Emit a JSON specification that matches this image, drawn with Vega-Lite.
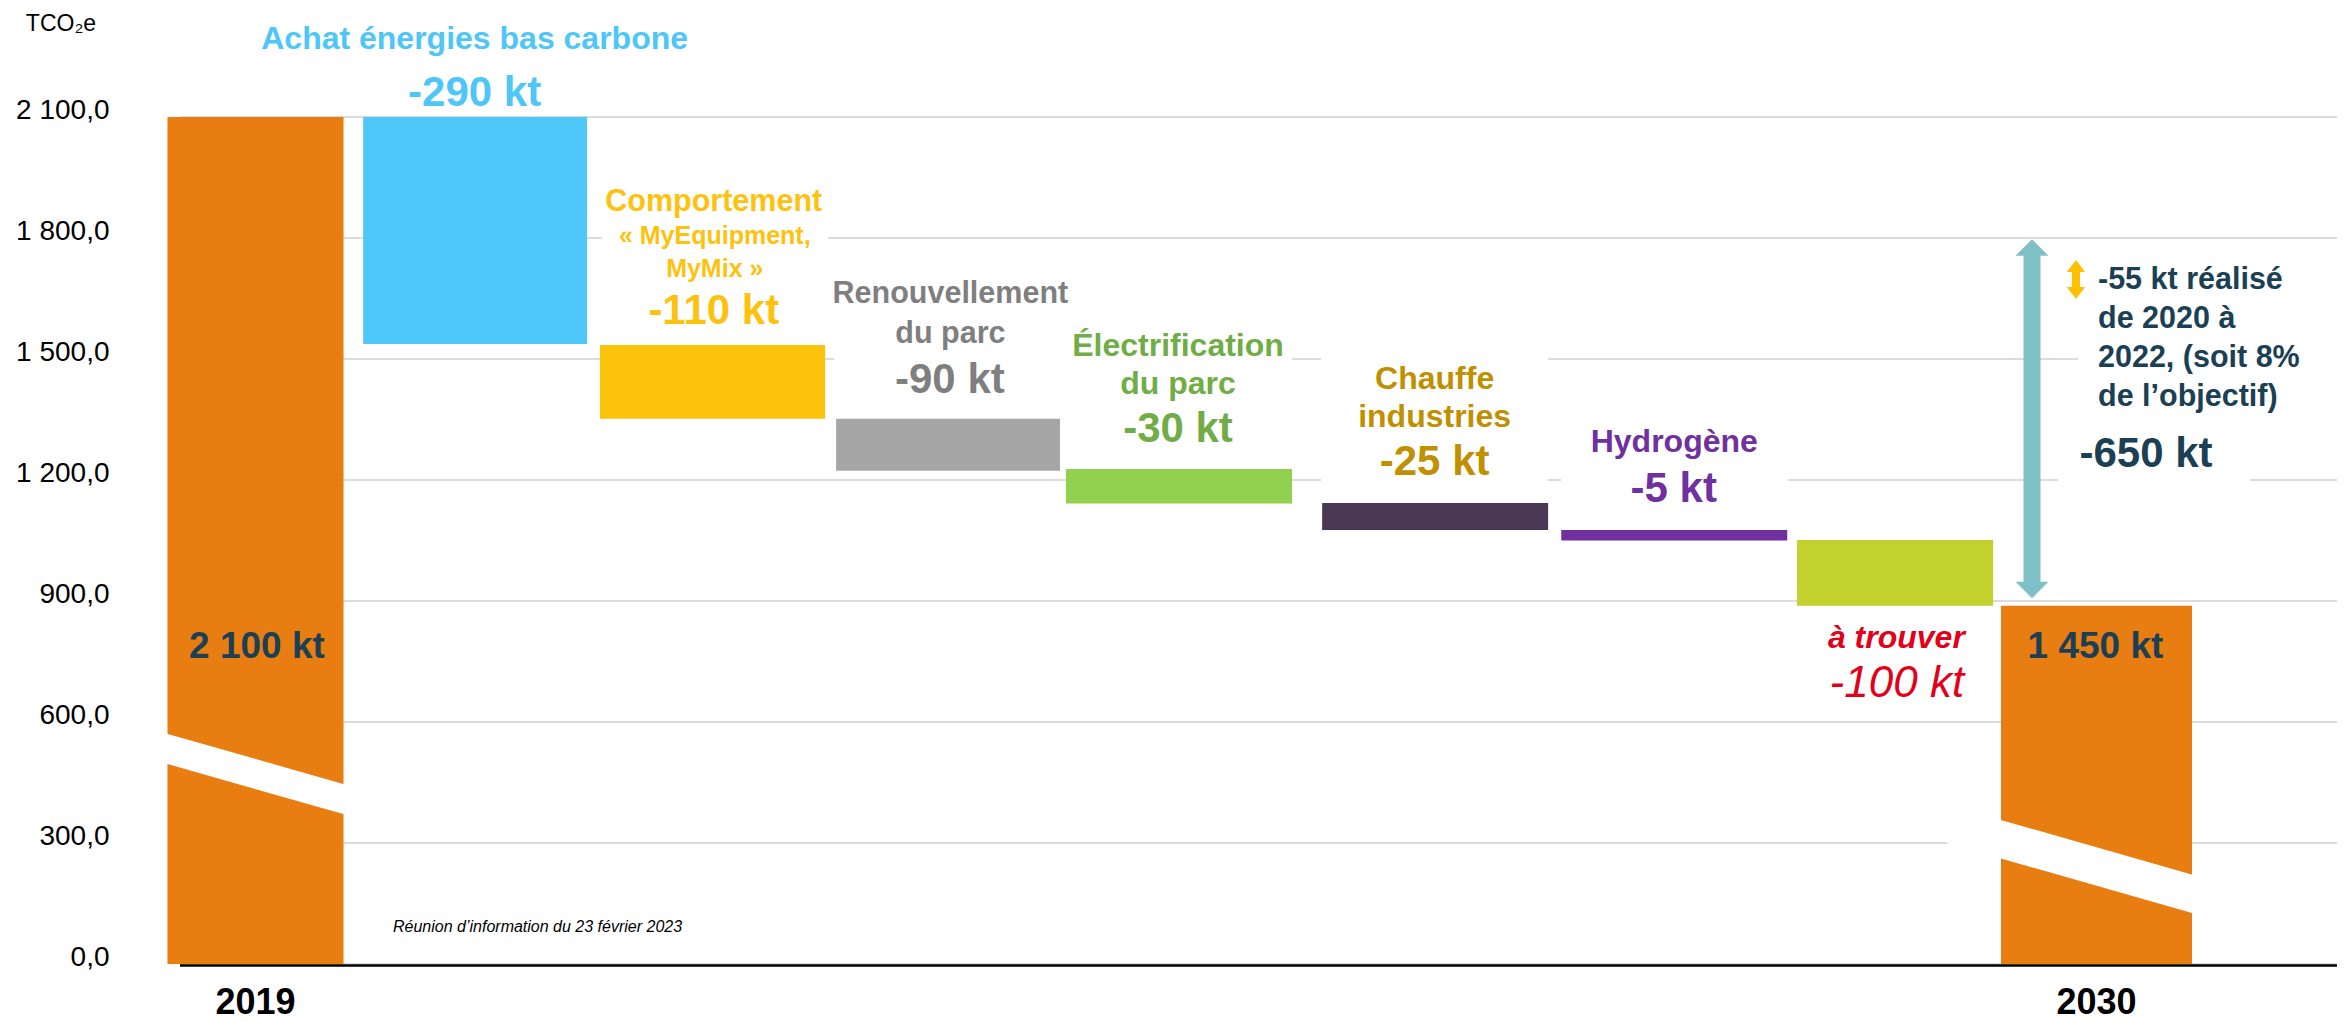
{
  "$schema": "https://vega.github.io/schema/vega-lite/v6.json",
  "width": 2157,
  "height": 847,
  "autosize": {"type": "none"},
  "padding": {"left": 180, "top": 117, "right": 7, "bottom": 58},
  "background": "#ffffff",
  "config": {"view": {"stroke": null}, "font": "Liberation Sans"},
  "datasets": {
    "bars": [
      {"cat": "2019", "start": 2100, "end": 0, "label": "2 100 kt"},
      {"cat": "Achat", "start": 2100, "end": 1537, "title": "Achat énergies bas carbone", "label": "-290 kt"},
      {"cat": "Comportement", "start": 1535, "end": 1352, "title": "Comportement", "sub": "« MyEquipment,\nMyMix »", "label": "-110 kt"},
      {"cat": "Renouvellement", "start": 1352, "end": 1223, "title": "Renouvellement\ndu parc", "label": "-90 kt"},
      {"cat": "Électrification", "start": 1227, "end": 1142, "title": "Électrification\ndu parc", "label": "-30 kt"},
      {"cat": "Chauffe", "start": 1143, "end": 1076, "title": "Chauffe\nindustries", "label": "-25 kt"},
      {"cat": "Hydrogène", "start": 1076, "end": 1050, "title": "Hydrogène", "label": "-5 kt"},
      {"cat": "À trouver", "start": 1051, "end": 888, "title": "à trouver", "label": "-100 kt"},
      {"cat": "2030", "start": 888, "end": 0, "label": "1 450 kt"}
    ],
    "ticks": [{"v": 0}, {"v": 300}, {"v": 600}, {"v": 900}, {"v": 1200}, {"v": 1500}, {"v": 1800}, {"v": 2100}]
  },
  "data": {"name": "bars"},
  "layer": [
    {
      "data": {"name": "ticks"},
      "mark": {"type": "rule", "color": "#DCDCDC", "strokeWidth": 2},
      "encoding": {"y": {"field": "v", "type": "quantitative"}}
    },
    {
      "transform": [{"filter": "datum.cat === '2019'"}],
      "layer": [
        {
          "mark": {"type": "bar", "color": "#E87D11", "width": {"band": 0.765}},
          "encoding": {
            "x": {
              "field": "cat", "type": "nominal",
              "scale": {"domain": ["2019", "Achat", "Comportement", "Renouvellement", "Électrification", "Chauffe", "Hydrogène", "À trouver", "2030"], "range": [-39.56, 2031.56], "paddingInner": 0, "paddingOuter": 0},
              "axis": {"title": null, "domain": false, "ticks": false, "tickSize": 0, "grid": false, "labelAngle": 0,
                "labelExpr": "datum.value == '2019' || datum.value == '2030' ? datum.value : ''",
                "labelFont": "Liberation Sans", "labelFontWeight": "bold", "labelFontSize": 36, "labelColor": "#000000",
                "labelBaseline": "top", "labelPadding": 21}
            },
            "y": {
              "field": "start", "type": "quantitative",
              "scale": {"domain": [0, 2100], "nice": false, "zero": false},
              "axis": {"title": "TCO₂e", "titleAngle": 0, "titleX": -119.5, "titleY": -87, "titleAlign": "center", "titleBaseline": "alphabetic",
                "titleFont": "Liberation Sans", "titleFontWeight": "normal", "titleFontSize": 23, "titleColor": "#000000",
                "values": [0, 300, 600, 900, 1200, 1500, 1800, 2100],
                "labelExpr": "replace(replace(format(datum.value, ',.1f'), ',', ' '), '.', ',')",
                "labelFont": "Liberation Sans", "labelFontSize": 28, "labelColor": "#000000", "labelBaseline": "alphabetic",
                "labelOffset": 1, "labelPadding": 71, "ticks": false, "tickSize": 0, "domain": false, "grid": false}
            },
            "y2": {"field": "end"}
          }
        },
        {
          "mark": {"type": "text", "font": "Liberation Sans", "fontWeight": "bold", "fontSize": 37, "color": "#1B3F55", "baseline": "middle", "xOffset": 1.5, "yOffset": 530.2},
          "encoding": {"x": {"field": "cat", "type": "nominal"}, "y": {"field": "start", "type": "quantitative"}, "text": {"field": "label", "type": "nominal"}}
        }
      ]
    },
    {
      "transform": [{"filter": "datum.cat === 'Achat'"}],
      "layer": [
        {
          "mark": {"type": "bar", "color": "#4EC6F8", "width": {"band": 0.973}, "xOffset": -10.5},
          "encoding": {"x": {"field": "cat", "type": "nominal"}, "y": {"field": "start", "type": "quantitative"}, "y2": {"field": "end"}}
        },
        {
          "mark": {"type": "text", "font": "Liberation Sans", "fontWeight": "bold", "fontSize": 32, "color": "#4EC6F8", "baseline": "middle", "xOffset": -11, "yOffset": -78.4},
          "encoding": {"x": {"field": "cat", "type": "nominal"}, "y": {"field": "start", "type": "quantitative"}, "text": {"field": "title", "type": "nominal"}}
        },
        {
          "mark": {"type": "text", "font": "Liberation Sans", "fontWeight": "bold", "fontSize": 42, "color": "#4EC6F8", "baseline": "middle", "xOffset": -11, "yOffset": -24},
          "encoding": {"x": {"field": "cat", "type": "nominal"}, "y": {"field": "start", "type": "quantitative"}, "text": {"field": "label", "type": "nominal"}}
        }
      ]
    },
    {
      "transform": [{"filter": "datum.cat === 'Comportement'"}],
      "layer": [
        {
          "mark": {"type": "bar", "color": "#ffffff", "width": {"band": 0.982}, "xOffset": -0.7, "y2Offset": -160},
          "encoding": {"x": {"field": "cat", "type": "nominal"}, "y": {"field": "start", "type": "quantitative"}, "y2": {"field": "start"}}
        },
        {
          "mark": {"type": "bar", "color": "#FCC30C", "width": {"band": 0.978}, "xOffset": -3.2},
          "encoding": {"x": {"field": "cat", "type": "nominal"}, "y": {"field": "start", "type": "quantitative"}, "y2": {"field": "end"}}
        },
        {
          "mark": {"type": "text", "font": "Liberation Sans", "fontWeight": "bold", "fontSize": 30.5, "color": "#FDC20F", "baseline": "middle", "xOffset": -2, "yOffset": -143.2},
          "encoding": {"x": {"field": "cat", "type": "nominal"}, "y": {"field": "start", "type": "quantitative"}, "text": {"field": "title", "type": "nominal"}}
        },
        {
          "mark": {"type": "text", "font": "Liberation Sans", "fontWeight": "bold", "fontSize": 25, "color": "#FDC20F", "baseline": "middle", "lineBreak": "\n", "lineHeight": 32.5, "xOffset": -1, "yOffset": -108.5},
          "encoding": {"x": {"field": "cat", "type": "nominal"}, "y": {"field": "start", "type": "quantitative"}, "text": {"field": "sub", "type": "nominal"}}
        },
        {
          "mark": {"type": "text", "font": "Liberation Sans", "fontWeight": "bold", "fontSize": 42, "color": "#FDC20F", "baseline": "middle", "xOffset": -2, "yOffset": -34.3},
          "encoding": {"x": {"field": "cat", "type": "nominal"}, "y": {"field": "start", "type": "quantitative"}, "text": {"field": "label", "type": "nominal"}}
        }
      ]
    },
    {
      "transform": [{"filter": "datum.cat === 'Renouvellement'"}],
      "layer": [
        {
          "mark": {"type": "bar", "color": "#ffffff", "width": {"band": 0.99}, "xOffset": 2.2, "y2Offset": -144},
          "encoding": {"x": {"field": "cat", "type": "nominal"}, "y": {"field": "start", "type": "quantitative"}, "y2": {"field": "start"}}
        },
        {
          "mark": {"type": "bar", "color": "#A6A6A6", "width": {"band": 0.973}, "xOffset": 2.2},
          "encoding": {"x": {"field": "cat", "type": "nominal"}, "y": {"field": "start", "type": "quantitative"}, "y2": {"field": "end"}}
        },
        {
          "mark": {"type": "text", "font": "Liberation Sans", "fontWeight": "bold", "fontSize": 30.5, "color": "#7F7F7F", "baseline": "middle", "lineBreak": "\n", "lineHeight": 40, "xOffset": 4.5, "yOffset": -124.4},
          "encoding": {"x": {"field": "cat", "type": "nominal"}, "y": {"field": "start", "type": "quantitative"}, "text": {"field": "title", "type": "nominal"}}
        },
        {
          "mark": {"type": "text", "font": "Liberation Sans", "fontWeight": "bold", "fontSize": 42, "color": "#7F7F7F", "baseline": "middle", "xOffset": 4, "yOffset": -39},
          "encoding": {"x": {"field": "cat", "type": "nominal"}, "y": {"field": "start", "type": "quantitative"}, "text": {"field": "label", "type": "nominal"}}
        }
      ]
    },
    {
      "transform": [{"filter": "datum.cat === 'Électrification'"}],
      "layer": [
        {
          "mark": {"type": "bar", "color": "#ffffff", "width": {"band": 1}, "xOffset": 1, "y2Offset": -149},
          "encoding": {"x": {"field": "cat", "type": "nominal"}, "y": {"field": "start", "type": "quantitative"}, "y2": {"field": "start"}}
        },
        {
          "mark": {"type": "bar", "color": "#92D050", "width": {"band": 0.982}, "xOffset": 3},
          "encoding": {"x": {"field": "cat", "type": "nominal"}, "y": {"field": "start", "type": "quantitative"}, "y2": {"field": "end"}}
        },
        {
          "mark": {"type": "text", "font": "Liberation Sans", "fontWeight": "bold", "fontSize": 32, "color": "#70AD47", "baseline": "middle", "lineBreak": "\n", "lineHeight": 37.5, "xOffset": 2, "yOffset": -122.9},
          "encoding": {"x": {"field": "cat", "type": "nominal"}, "y": {"field": "start", "type": "quantitative"}, "text": {"field": "title", "type": "nominal"}}
        },
        {
          "mark": {"type": "text", "font": "Liberation Sans", "fontWeight": "bold", "fontSize": 42, "color": "#70AD47", "baseline": "middle", "xOffset": 2, "yOffset": -40},
          "encoding": {"x": {"field": "cat", "type": "nominal"}, "y": {"field": "start", "type": "quantitative"}, "text": {"field": "label", "type": "nominal"}}
        }
      ]
    },
    {
      "transform": [{"filter": "datum.cat === 'Chauffe'"}],
      "layer": [
        {
          "mark": {"type": "bar", "color": "#ffffff", "width": {"band": 0.986}, "xOffset": 28.4, "y2Offset": -153},
          "encoding": {"x": {"field": "cat", "type": "nominal"}, "y": {"field": "start", "type": "quantitative"}, "y2": {"field": "start"}}
        },
        {
          "mark": {"type": "bar", "color": "#4B3855", "width": {"band": 0.982}, "xOffset": 29},
          "encoding": {"x": {"field": "cat", "type": "nominal"}, "y": {"field": "start", "type": "quantitative"}, "y2": {"field": "end"}}
        },
        {
          "mark": {"type": "text", "font": "Liberation Sans", "fontWeight": "bold", "fontSize": 32, "color": "#BF9000", "baseline": "middle", "lineBreak": "\n", "lineHeight": 38, "xOffset": 28.5, "yOffset": -124.4},
          "encoding": {"x": {"field": "cat", "type": "nominal"}, "y": {"field": "start", "type": "quantitative"}, "text": {"field": "title", "type": "nominal"}}
        },
        {
          "mark": {"type": "text", "font": "Liberation Sans", "fontWeight": "bold", "fontSize": 42, "color": "#BF9000", "baseline": "middle", "xOffset": 28.5, "yOffset": -41.4},
          "encoding": {"x": {"field": "cat", "type": "nominal"}, "y": {"field": "start", "type": "quantitative"}, "text": {"field": "label", "type": "nominal"}}
        }
      ]
    },
    {
      "transform": [{"filter": "datum.cat === 'Hydrogène'"}],
      "layer": [
        {
          "mark": {"type": "bar", "color": "#ffffff", "width": {"band": 0.986}, "xOffset": 38.3, "y2Offset": -110},
          "encoding": {"x": {"field": "cat", "type": "nominal"}, "y": {"field": "start", "type": "quantitative"}, "y2": {"field": "start"}}
        },
        {
          "mark": {"type": "bar", "color": "#7030A0", "width": {"band": 0.982}, "xOffset": 38},
          "encoding": {"x": {"field": "cat", "type": "nominal"}, "y": {"field": "start", "type": "quantitative"}, "y2": {"field": "end"}}
        },
        {
          "mark": {"type": "text", "font": "Liberation Sans", "fontWeight": "bold", "fontSize": 32, "color": "#7030A0", "baseline": "middle", "xOffset": 38, "yOffset": -87.6},
          "encoding": {"x": {"field": "cat", "type": "nominal"}, "y": {"field": "start", "type": "quantitative"}, "text": {"field": "title", "type": "nominal"}}
        },
        {
          "mark": {"type": "text", "font": "Liberation Sans", "fontWeight": "bold", "fontSize": 42, "color": "#7030A0", "baseline": "middle", "xOffset": 37.5, "yOffset": -41.4},
          "encoding": {"x": {"field": "cat", "type": "nominal"}, "y": {"field": "start", "type": "quantitative"}, "text": {"field": "label", "type": "nominal"}}
        }
      ]
    },
    {
      "transform": [{"filter": "datum.cat === 'À trouver'"}],
      "layer": [
        {
          "mark": {"type": "bar", "color": "#C2D12E", "width": {"band": 0.852}, "xOffset": 28.7},
          "encoding": {"x": {"field": "cat", "type": "nominal"}, "y": {"field": "start", "type": "quantitative"}, "y2": {"field": "end"}}
        },
        {
          "mark": {"type": "text", "font": "Liberation Sans", "fontWeight": "bold", "fontStyle": "italic", "fontSize": 32, "color": "#E2001A", "baseline": "middle", "xOffset": 30, "yOffset": 32.1},
          "encoding": {"x": {"field": "cat", "type": "nominal"}, "y": {"field": "end", "type": "quantitative"}, "text": {"field": "title", "type": "nominal"}}
        },
        {
          "mark": {"type": "text", "font": "Liberation Sans", "fontWeight": "normal", "fontStyle": "italic", "fontSize": 44, "color": "#E2001A", "baseline": "middle", "xOffset": 30.5, "yOffset": 78.5},
          "encoding": {"x": {"field": "cat", "type": "nominal"}, "y": {"field": "end", "type": "quantitative"}, "text": {"field": "label", "type": "nominal"}}
        }
      ]
    },
    {
      "transform": [{"filter": "datum.cat === '2030'"}],
      "layer": [
        {
          "mark": {"type": "bar", "color": "#E87D11", "width": {"band": 0.83}},
          "encoding": {"x": {"field": "cat", "type": "nominal"}, "y": {"field": "start", "type": "quantitative"}, "y2": {"field": "end"}}
        },
        {
          "mark": {"type": "text", "font": "Liberation Sans", "fontWeight": "bold", "fontSize": 37, "color": "#1B3F55", "baseline": "middle", "xOffset": -1, "yOffset": 41.4},
          "encoding": {"x": {"field": "cat", "type": "nominal"}, "y": {"field": "start", "type": "quantitative"}, "text": {"field": "label", "type": "nominal"}}
        }
      ]
    },
    {
      "data": {"values": [{"cat": "2019", "a": 536.5, "b": 405.6}]},
      "mark": {"type": "rule", "color": "#ffffff", "strokeWidth": 29, "strokeCap": "butt"},
      "encoding": {
        "x": {"field": "cat", "type": "nominal", "bandPosition": 0.098},
        "x2": {"field": "cat", "bandPosition": 0.902},
        "y": {"field": "a", "type": "quantitative"},
        "y2": {"field": "b"}
      }
    },
    {
      "data": {"values": [{"cat": "2030", "a": 344.1, "b": 170.3}]},
      "mark": {"type": "rule", "color": "#ffffff", "strokeWidth": 37, "strokeCap": "butt"},
      "encoding": {
        "x": {"field": "cat", "type": "nominal", "bandPosition": -0.128},
        "x2": {"field": "cat", "bandPosition": 0.937},
        "y": {"field": "a", "type": "quantitative"},
        "y2": {"field": "b"}
      }
    },
    {
      "data": {"values": [{}]},
      "mark": {"type": "rule", "color": "#000000", "strokeWidth": 2.5, "yOffset": 1.5},
      "encoding": {"y": {"datum": 0, "type": "quantitative"}}
    },
    {
      "data": {"values": [{"cat": "2030", "note": "-55 kt réalisé\nde 2020 à\n2022, (soit 8%\nde l’objectif)", "total": "-650 kt", "top": 1797, "bottom": 907, "doneTop": 1745.5, "doneBottom": 1649}]},
      "layer": [
        {
          "mark": {"type": "bar", "color": "#ffffff", "width": 262, "xOffset": 112.5, "yOffset": -80, "y2Offset": 80},
          "encoding": {"x": {"field": "cat", "type": "nominal"}, "y": {"datum": 1551.3, "type": "quantitative"}, "y2": {"datum": 1551.3}}
        },
        {
          "mark": {"type": "bar", "color": "#ffffff", "width": 192, "xOffset": 57.5, "yOffset": -30, "y2Offset": 34},
          "encoding": {"x": {"field": "cat", "type": "nominal"}, "y": {"datum": 1264.2, "type": "quantitative"}, "y2": {"datum": 1264.2}}
        },
        {
          "mark": {"type": "rule", "color": "#7FBFC6", "strokeWidth": 17, "strokeCap": "butt", "xOffset": -64.5, "yOffset": 15, "y2Offset": -15},
          "encoding": {"x": {"field": "cat", "type": "nominal"}, "y": {"field": "top", "type": "quantitative"}, "y2": {"field": "bottom"}}
        },
        {
          "mark": {"type": "point", "shape": "M0,0L1,1L-1,1Z", "size": 1089, "filled": true, "opacity": 1, "color": "#7FBFC6", "xOffset": -64.5},
          "encoding": {"x": {"field": "cat", "type": "nominal"}, "y": {"field": "top", "type": "quantitative"}}
        },
        {
          "mark": {"type": "point", "shape": "M0,0L1,-1L-1,-1Z", "size": 1089, "filled": true, "opacity": 1, "color": "#7FBFC6", "xOffset": -64.5},
          "encoding": {"x": {"field": "cat", "type": "nominal"}, "y": {"field": "bottom", "type": "quantitative"}}
        },
        {
          "mark": {"type": "rule", "color": "#FFC000", "strokeWidth": 8, "strokeCap": "butt", "xOffset": -20.5, "yOffset": 10, "y2Offset": -10},
          "encoding": {"x": {"field": "cat", "type": "nominal"}, "y": {"field": "doneTop", "type": "quantitative"}, "y2": {"field": "doneBottom"}}
        },
        {
          "mark": {"type": "point", "shape": "M0,0L1,1.3L-1,1.3Z", "size": 335, "filled": true, "opacity": 1, "color": "#FFC000", "xOffset": -20.5},
          "encoding": {"x": {"field": "cat", "type": "nominal"}, "y": {"field": "doneTop", "type": "quantitative"}}
        },
        {
          "mark": {"type": "point", "shape": "M0,0L1,-1.3L-1,-1.3Z", "size": 335, "filled": true, "opacity": 1, "color": "#FFC000", "xOffset": -20.5},
          "encoding": {"x": {"field": "cat", "type": "nominal"}, "y": {"field": "doneBottom", "type": "quantitative"}}
        },
        {
          "mark": {"type": "text", "font": "Liberation Sans", "fontWeight": "bold", "fontSize": 30.5, "color": "#1B3F55", "align": "left", "baseline": "middle", "lineBreak": "\n", "lineHeight": 39, "xOffset": 1.5},
          "encoding": {"x": {"field": "cat", "type": "nominal"}, "y": {"datum": 1696.4, "type": "quantitative"}, "text": {"field": "note", "type": "nominal"}}
        },
        {
          "mark": {"type": "text", "font": "Liberation Sans", "fontWeight": "bold", "fontSize": 42, "color": "#1B3F55", "align": "center", "baseline": "middle", "xOffset": 49.5},
          "encoding": {"x": {"field": "cat", "type": "nominal"}, "y": {"datum": 1264.2, "type": "quantitative"}, "text": {"field": "total", "type": "nominal"}}
        }
      ]
    },
    {
      "data": {"values": [{"cat": "2019", "note": "Réunion d’information du 23 février 2023"}]},
      "mark": {"type": "text", "font": "Liberation Sans", "fontStyle": "italic", "fontSize": 16, "color": "#000000", "align": "left", "baseline": "alphabetic", "xOffset": 137.5, "yOffset": -31.7},
      "encoding": {"x": {"field": "cat", "type": "nominal"}, "y": {"datum": 0, "type": "quantitative"}, "text": {"field": "note", "type": "nominal"}}
    }
  ]
}
